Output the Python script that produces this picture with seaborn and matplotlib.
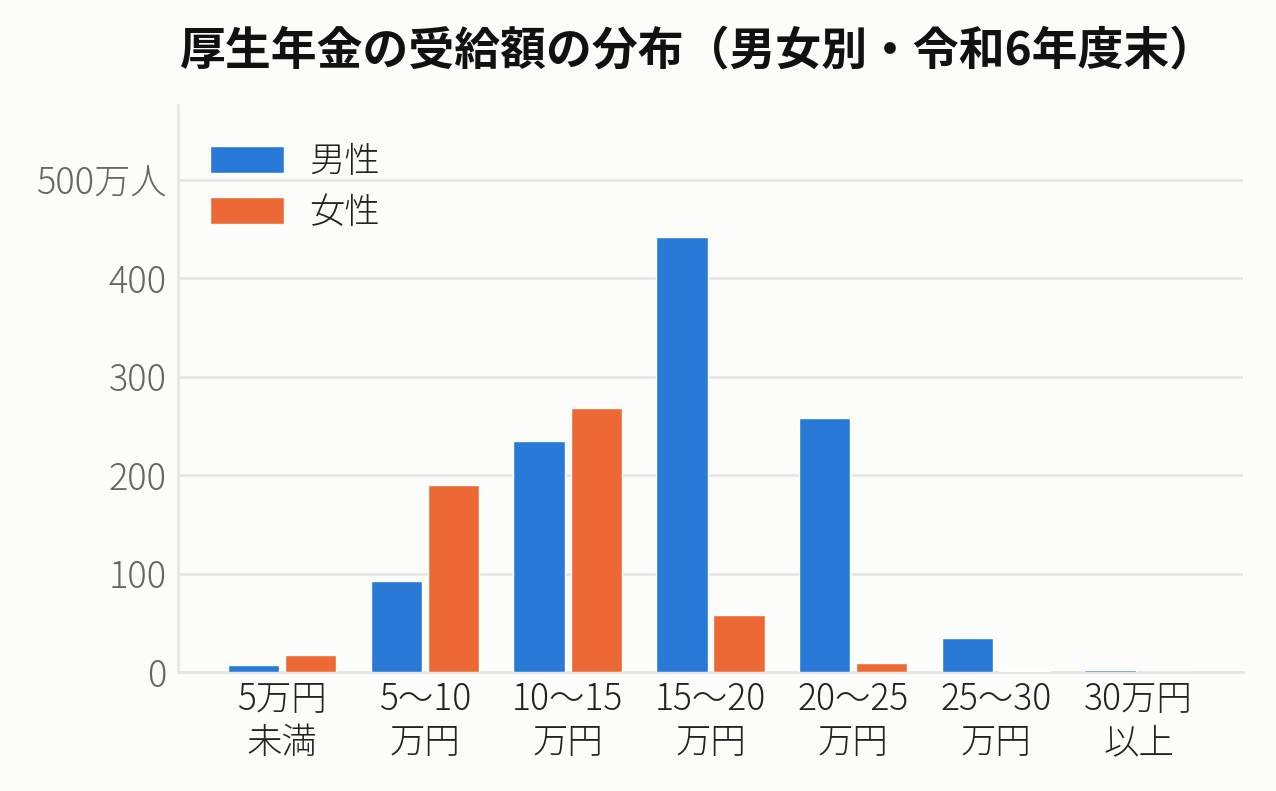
import pandas as pd
import matplotlib
matplotlib.use('Agg')
import matplotlib.pyplot as plt
import seaborn as sns

# データ（万人）
categories = ['5万円\n未満', '5〜10\n万円', '10〜15\n万円', '15〜20\n万円',
              '20〜25\n万円', '25〜30\n万円', '30万円\n以上']
male = [7, 92.5, 235, 442, 258, 34.5, 2.5]
female = [17, 190, 268, 58, 9, 1.5, 0.3]
series = ['男性', '女性']
yticks = [0, 100, 200, 300, 400, 500]
ytick_labels = ['0', '100', '200', '300', '400', '500万人']

df = pd.DataFrame({
    'cat': categories * 2,
    'value': male + female,
    'sex': [series[0]] * len(categories) + [series[1]] * len(categories),
})

sns.set_theme(style='white')
plt.rcParams['font.family'] = ['Noto Sans CJK JP', 'DejaVu Sans']

bg = '#fcfcfa'
fig = plt.figure(figsize=(12.76, 7.91), dpi=100, facecolor=bg)
ax = fig.add_axes([0.1395, 0.1504, 0.8345, 0.7169], facecolor=bg)

sns.barplot(data=df, x='cat', y='value', hue='sex', order=categories,
            hue_order=series, palette=['#2979d6', '#ec6935'],
            width=0.8, gap=0.1, saturation=1, ax=ax, zorder=3)

ax.set_xlim(-0.73, 6.73)
ax.set_ylim(0, 576)
ax.set_yticks(yticks)
ax.set_yticklabels(ytick_labels)
ax.yaxis.grid(True, color='#e6e6e6', linewidth=2)
ax.set_axisbelow(True)
ax.set_xlabel('')
ax.set_ylabel('')
ax.tick_params(axis='y', labelsize=26, labelcolor='#666666', length=0, pad=8)
ax.tick_params(axis='x', labelsize=25.5, labelcolor='#222222', length=0, pad=6)
for lbl in ax.get_xticklabels() + ax.get_yticklabels():
    lbl.set_fontweight('light')
for lbl in ax.get_xticklabels():
    lbl.set_linespacing(1.15)

for s in ['top', 'right']:
    ax.spines[s].set_visible(False)
for s in ['left', 'bottom']:
    ax.spines[s].set_color('#e6e6e6')
    ax.spines[s].set_linewidth(2)
    ax.spines[s].set_zorder(1)

leg = ax.legend(loc='upper left', bbox_to_anchor=(0.0, 0.99), frameon=False,
                prop={'size': 25.5, 'weight': 'light'}, handlelength=2.1,
                handleheight=0.8, handletextpad=0.7, labelspacing=0.35)
for t in leg.get_texts():
    t.set_color('#222222')

fig.text(0.546, 0.935, '厚生年金の受給額の分布（男女別・令和6年度末）',
         ha='center', va='center', fontsize=33, fontweight='bold', color='#111111')

fig.savefig('out.png', dpi=100, facecolor=bg)
